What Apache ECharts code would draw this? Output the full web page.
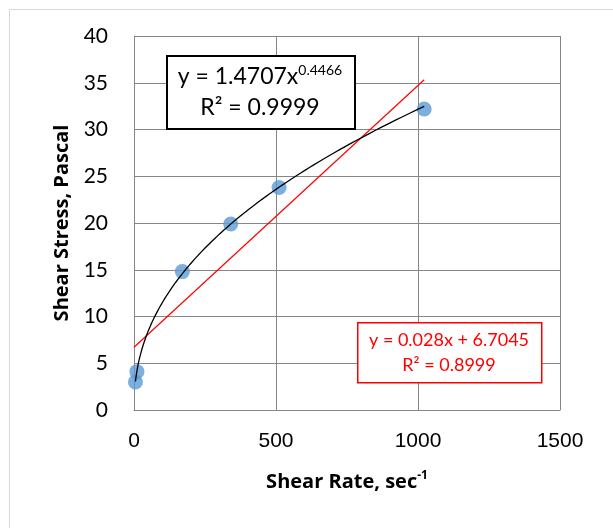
<!DOCTYPE html>
<html>
<head>
<meta charset="UTF-8">
<title>Shear Stress vs Shear Rate</title>
<script src="https://cdn.jsdelivr.net/npm/echarts@6/dist/echarts.min.js"></script>
<style>
  html, body { margin: 0; padding: 0; background: #fff; }
  #chart { width: 613px; height: 528px; }
</style>
</head>
<body>
<div id="chart"></div>
<script type="text/javascript">
// measured data (shear rate, shear stress)
var shearRate = [5.11, 10.22, 170.3, 340.6, 510.9, 1021.8];
var shearStress = [3.0, 4.1, 14.8, 19.9, 23.8, 32.2];

// trendline coefficients as printed on the chart
var powA = 1.4707, powB = 0.4466;
var linM = 0.028, linC = 6.7045;

var chart = echarts.init(document.getElementById('chart'));

var pts = shearRate.map(function (x, i) { return [x, shearStress[i]]; });

// power trendline drawn from the printed equation
var powLine = [];
var xmin = shearRate[0], xmax = shearRate[shearRate.length - 1];
for (var k = 0; k <= 200; k++) {
  var t = k / 200;
  var x = xmin * Math.pow(xmax / xmin, t);
  powLine.push([x, powA * Math.pow(x, powB)]);
}
var linLine = [[0, linC], [xmax, linM * xmax + linC]];

var option = {
  animation: false,
  grid: { left: 134, right: 53, top: 36, bottom: 118 },
  xAxis: {
    type: 'value', min: 0, max: 1500, interval: 500,
    axisLine: { lineStyle: { color: '#868686' } },
    axisTick: { show: false },
    splitLine: { lineStyle: { color: '#868686' } },
    axisLabel: {
      color: '#000', fontSize: 21, fontFamily: 'Liberation Sans', margin: 21,
      formatter: function (v) { return String(v); }
    },
    name: '{b|Shear Rate, sec}{s|-1}',
    nameLocation: 'middle', nameGap: 60,
    nameTextStyle: {
      rich: {
        b: { fontSize: 20, fontWeight: 'bold', fontFamily: 'Open Sans', color: '#000' },
        s: { fontSize: 12, fontWeight: 'bold', fontFamily: 'Open Sans', color: '#000', verticalAlign: 'top', padding: [0, 0, 12, 0] }
      }
    }
  },
  yAxis: {
    type: 'value', min: 0, max: 40, interval: 5,
    axisLine: { show: true, lineStyle: { color: '#868686' } },
    axisTick: { show: false },
    splitLine: { lineStyle: { color: '#868686' } },
    axisLabel: { color: '#000', fontSize: 21, fontFamily: 'Lato', margin: 26 },
    name: 'Shear Stress, Pascal',
    nameLocation: 'middle', nameGap: 62,
    nameTextStyle: { fontSize: 20, fontWeight: 'bold', fontFamily: 'Open Sans', color: '#000' }
  },
  series: [
    {
      type: 'line', data: linLine, symbol: 'none', silent: true,
      lineStyle: { color: '#ff0000', width: 1.2 }, z: 2
    },
    {
      type: 'scatter', data: pts, symbolSize: 15,
      itemStyle: { color: '#5b9bd5' }, z: 3
    },
    {
      type: 'line', data: powLine, symbol: 'none', silent: true,
      lineStyle: { color: '#000', width: 1.3 }, z: 4
    }
  ],
  graphic: [
    {
      type: 'rect', left: 7, top: 7,
      shape: { width: 620, height: 540 },
      style: { fill: 'none', stroke: '#d9d9d9', lineWidth: 1 }, silent: true
    },
    {
      type: 'rect', left: 166, top: 55,
      shape: { width: 188, height: 73 },
      style: { fill: '#fff', stroke: '#000', lineWidth: 2 }, z: 10
    },
    {
      type: 'text', z: 11,
      style: {
        x: 260, y: 77, align: 'center', verticalAlign: 'middle',
        text: '{m|y = 1.4707x}{s|0.4466}',
        rich: {
          m: { fontSize: 23, fontFamily: 'Lato', fill: '#000' },
          s: { fontSize: 14, fontFamily: 'Lato', fill: '#000', verticalAlign: 'top', padding: [0, 0, 14, 0] }
        }
      }
    },
    {
      type: 'text', z: 11,
      style: { x: 260, y: 108, align: 'center', verticalAlign: 'middle', text: 'R² = 0.9999', font: '23px Lato', fill: '#000' }
    },
    {
      type: 'rect', left: 357, top: 322,
      shape: { width: 184, height: 60 },
      style: { fill: '#fff', stroke: '#ff0000', lineWidth: 1.5 }, z: 10
    },
    {
      type: 'text', z: 11,
      style: { x: 449, y: 340, align: 'center', verticalAlign: 'middle', text: 'y = 0.028x + 6.7045', font: '18px Lato', fill: '#ff0000' }
    },
    {
      type: 'text', z: 11,
      style: { x: 449, y: 365, align: 'center', verticalAlign: 'middle', text: 'R² = 0.8999', font: '18px Lato', fill: '#ff0000' }
    }
  ]
};

chart.setOption(option);
</script>
</body>
</html>
